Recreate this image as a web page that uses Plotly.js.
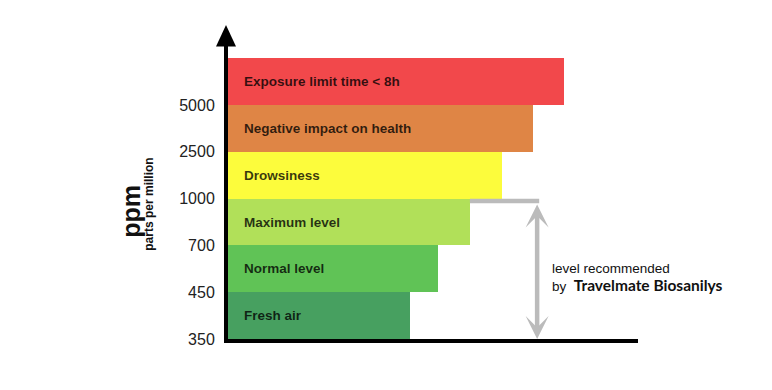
<!DOCTYPE html>
<html>
<head>
<meta charset="utf-8">
<script src="https://cdn.plot.ly/plotly-3.0.1.min.js"></script>
<style>
  html, body { margin: 0; padding: 0; background: #ffffff; }
  #chart { width: 772px; height: 390px; }
</style>
</head>
<body>
<div id="chart"></div>
<script>
// ---- data ----
const ppmLevels = ['350', '450', '700', '1000', '2500', '5000'];
const categories = ['Fresh air', 'Normal level', 'Maximum level', 'Drowsiness',
                    'Negative impact on health', 'Exposure limit time < 8h'];
const barLengths = [44.4, 51.1, 59.0, 66.8, 74.5, 82.0];
const barColors = ['#47a060', '#60c356', '#b1e059', '#fcfc3c', '#df8545', '#f2484b'];
const recommendedLimit = '1000';
const recommendedText = 'level recommended';
const recommendedBy = 'Travelmate Biosanilys';

// ---- layout constants ----
const W = 410, H = 294.5;
const bandIdx = ppmLevels.indexOf(recommendedLimit);
const bracketX = 75.4;
const sans = 'Liberation Sans, Arial, sans-serif';

const yMid = categories.map((c, i) => i + 0.5);
const yTicks = ppmLevels.map((p, i) => i);

const trace = {
  type: 'bar',
  orientation: 'h',
  x: barLengths,
  y: yMid,
  width: 1,
  marker: { color: barColors, line: { width: 0 } },
  hoverinfo: 'skip'
};

const annotations = categories.map((c, i) => ({
  x: 0, y: yMid[i], xref: 'x', yref: 'y',
  xanchor: 'left', yanchor: 'middle', xshift: 14,
  text: c.replace('<', '&lt;'), showarrow: false,
  font: { family: sans, size: 13.5, color: 'rgba(0,0,0,0.78)', weight: 'bold' }
}));

// double-headed recommended-range arrow
annotations.push({
  x: bracketX, y: 0, xref: 'x', yref: 'y',
  ax: bracketX, ay: bandIdx - 0.05, axref: 'x', ayref: 'y',
  text: '', showarrow: true, arrowside: 'end+start',
  arrowhead: 3, startarrowhead: 3, arrowsize: 0.85, startarrowsize: 0.85,
  arrowwidth: 4.5, arrowcolor: '#bbbbbb', standoff: 0, startstandoff: 2
});

annotations.push({
  x: 78.6, y: 1.32, xref: 'x', yref: 'y', xanchor: 'left', yanchor: 'middle',
  align: 'left', showarrow: false,
  text: recommendedText + '<br>by\u00a0\u00a0<span style="font-family:Lato;font-weight:bold;font-size:15.5px">' + recommendedBy + '</span>',
  font: { family: sans, size: 13.5, color: '#111' }
});

// axis titles
annotations.push({
  x: (131 - 228) / W, y: (339.5 - 212) / H, xref: 'paper', yref: 'paper',
  xanchor: 'center', yanchor: 'middle', textangle: -90, showarrow: false,
  text: 'ppm', font: { family: sans, size: 25, color: '#111', weight: 'bold' }
});
annotations.push({
  x: (149 - 228) / W, y: (339.5 - 205) / H, xref: 'paper', yref: 'paper',
  xanchor: 'center', yanchor: 'middle', textangle: -90, showarrow: false,
  text: 'parts per million', font: { family: sans, size: 12, color: '#111', weight: 'bold' }
});

const ax0 = -2 / W, hw = 10 / W, ah = 20 / H;
const shapes = [
  { type: 'line', xref: 'x', yref: 'y', x0: barLengths[bandIdx - 1], x1: bracketX + 0.5,
    y0: bandIdx - 0.05, y1: bandIdx - 0.05, line: { color: '#bbbbbb', width: 4.5 } },
  { type: 'path', xref: 'paper', yref: 'paper',
    path: `M ${ax0 - hw},0.995 L ${ax0 + hw},0.995 L ${ax0},${1 + ah} Z`,
    fillcolor: '#000', line: { width: 0 } }
];

const layout = {
  width: 772, height: 390,
  margin: { l: 228, r: 134, t: 45, b: 50.5, pad: 0 },
  paper_bgcolor: '#ffffff', plot_bgcolor: '#ffffff',
  showlegend: false,
  bargap: 0,
  xaxis: { range: [0, 100], showline: true, linewidth: 4, linecolor: '#000',
           showgrid: false, zeroline: false, showticklabels: false, ticks: '', fixedrange: true },
  yaxis: { range: [0, 6.283], tickmode: 'array', tickvals: yTicks, ticktext: ppmLevels,
           showline: true, linewidth: 4, linecolor: '#000', showgrid: false, zeroline: false,
           ticks: '', ticklabelstandoff: 6,
           tickfont: { family: sans, size: 16, color: '#222' }, fixedrange: true },
  annotations: annotations,
  shapes: shapes
};

Plotly.newPlot('chart', [trace], layout, { staticPlot: true, displayModeBar: false });
</script>
</body>
</html>
